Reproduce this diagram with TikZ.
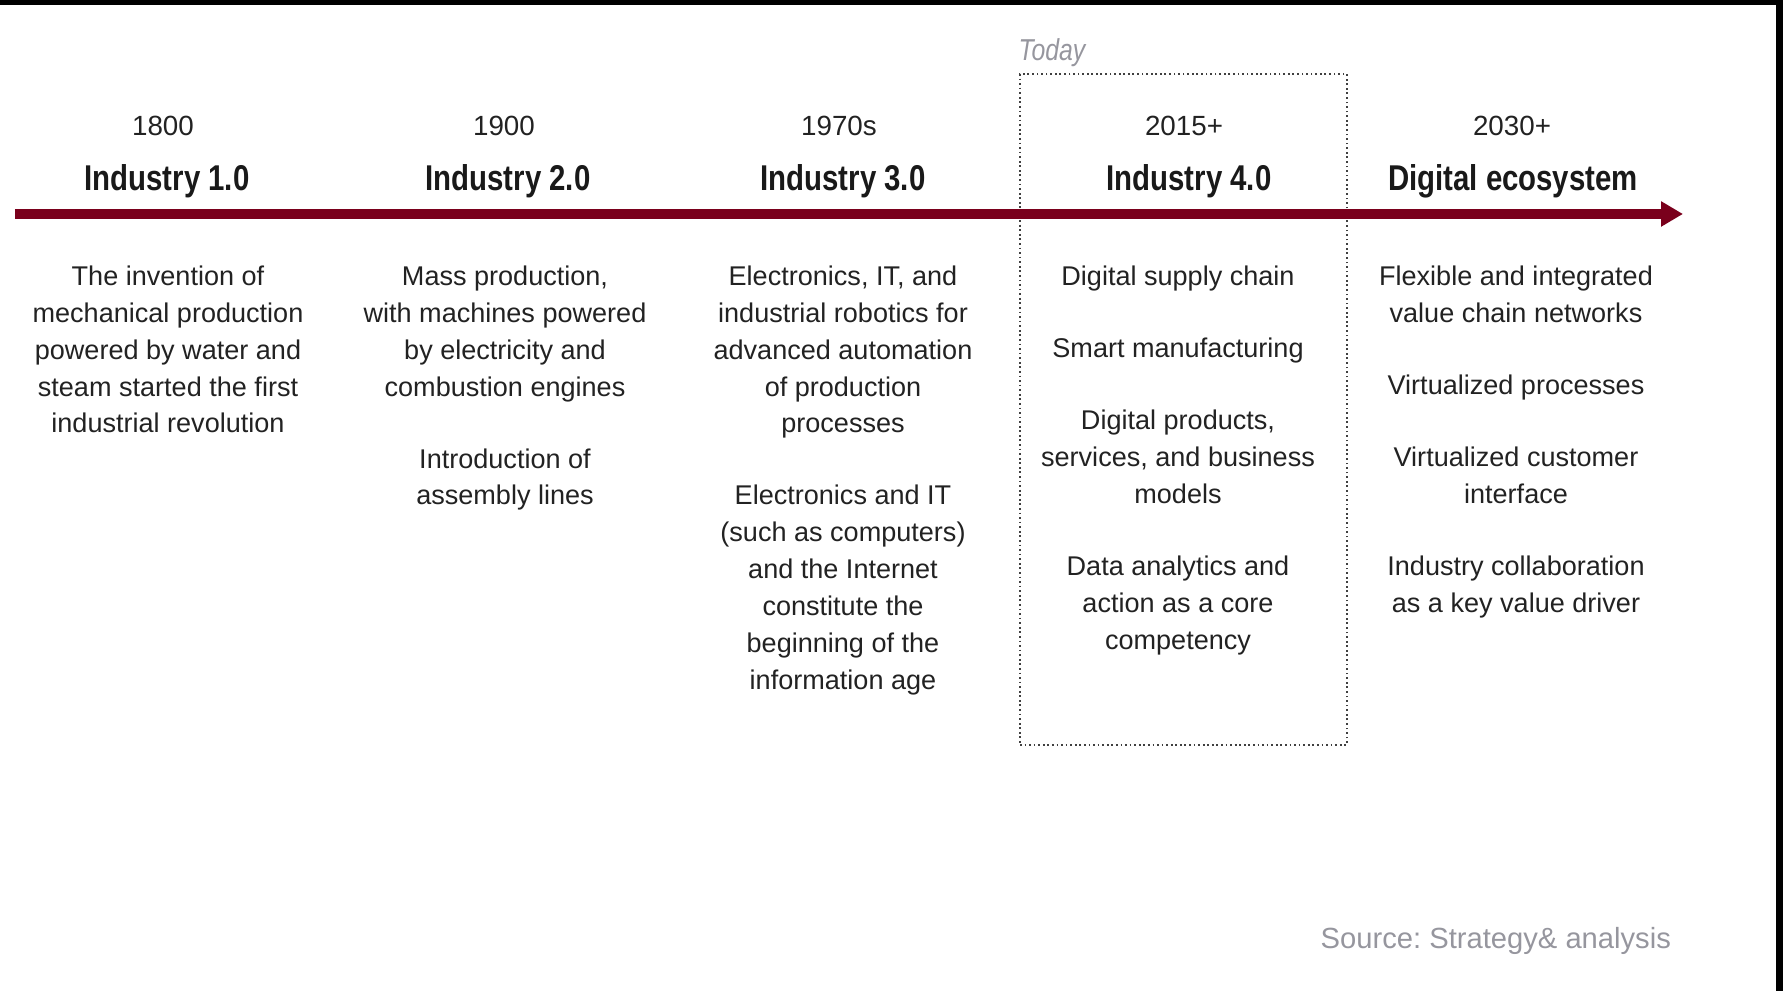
\documentclass[tikz,border=0pt]{standalone}
\usepackage{fontspec}
\setmainfont{Liberation Sans}
\newfontfamily\headfont[FakeStretch=0.82]{Liberation Sans}
\usetikzlibrary{arrows.meta}
\definecolor{timeline}{RGB}{122,0,28}
\definecolor{bodytext}{RGB}{34,34,34}
\definecolor{notegray}{RGB}{150,150,158}
\newcommand{\blockgap}{\\[10pt]}
\frenchspacing

\begin{document}
\begin{tikzpicture}[
    year/.style={
      anchor=base,inner sep=0pt,text=bodytext,
      font=\fontsize{7.9}{9.5}\selectfont
    },
    era/.style={
      anchor=base,inner sep=0pt,text=black!90,
      font=\headfont\bfseries\fontsize{10.2}{12}\selectfont
    },
    desc/.style={
      anchor=north,align=center,inner sep=0pt,text=bodytext,
      font=\fontsize{7.7}{10.5}\selectfont
    },
  ]
    \useasboundingbox (0,0) rectangle (17.83,9.91);
    % frame edges
    \fill[black] (0,9.86) rectangle (17.83,9.91);
    \fill[black] (17.76,0) rectangle (17.83,9.91);
    % today box
    \node[draw=black!75,line width=0.5pt,dash pattern=on 0.5pt off 0.8pt,
      minimum width=3.27cm,minimum height=6.71cm,inner sep=0pt] (now) at (11.835,5.815) {};
    \node[anchor=base west,inner sep=0pt,text=notegray,
      font=\headfont\itshape\fontsize{8.6}{10}\selectfont] (today) at (10.18,9.30) {Today};
    % time axis
    \coordinate (start) at (0.15,7.77);
    \coordinate (tip) at (16.83,7.77);
    \draw[line width=2.6pt,color=timeline,-{Triangle[length=0.22cm,width=0.24cm]}] (start) -- (tip);
    % years
    \node[year] (y1) at (1.63,8.55) {1800};
    \node[year] (y2) at (5.04,8.55) {1900};
    \node[year] (y3) at (8.39,8.55) {1970s};
    \node[year] (y4) at (11.84,8.55) {2015+};
    \node[year] (y5) at (15.12,8.55) {2030+};
    % eras
    \node[era] (e1) at (1.67,8.00) {Industry 1.0};
    \node[era] (e2) at (5.08,8.00) {Industry 2.0};
    \node[era] (e3) at (8.43,8.00) {Industry 3.0};
    \node[era] (e4) at (11.89,8.00) {Industry 4.0};
    \node[era] (e5) at (15.13,8.00) {Digital ecosystem};
    % descriptions
    \node[desc] (d1) at (1.68,7.26) {The invention of\\mechanical production\\powered by water and\\steam started the first\\industrial revolution};
    \node[desc] (d2) at (5.05,7.26) {Mass production,\\with machines powered\\by electricity and\\combustion engines\blockgap Introduction of\\assembly lines};
    \node[desc] (d3) at (8.43,7.26) {Electronics, IT, and\\industrial robotics for\\advanced automation\\of production\\processes\blockgap Electronics and IT\\(such as computers)\\and the Internet\\constitute the\\beginning of the\\information age};
    \node[desc] (d4) at (11.78,7.26) {Digital supply chain\blockgap Smart manufacturing\blockgap Digital products,\\services, and business\\models\blockgap Data analytics and\\action as a core\\competency};
    \node[desc] (d5) at (15.16,7.26) {Flexible and integrated\\value chain networks\blockgap Virtualized processes\blockgap Virtualized customer\\interface\blockgap Industry collaboration\\as a key value driver};
    % source
    \node[anchor=base west,inner sep=0pt,text=notegray,
      font=\fontsize{8.3}{10}\selectfont] (source) at (13.20,0.42) {Source: Strategy\& analysis};
  \end{tikzpicture}
\end{document}
